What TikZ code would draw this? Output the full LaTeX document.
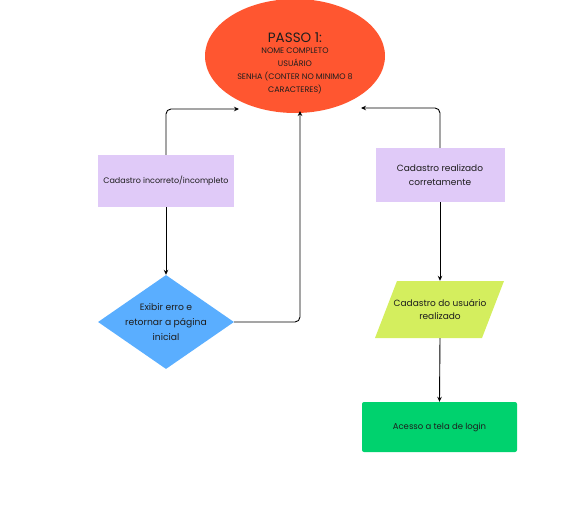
\documentclass[tikz,border=0pt]{standalone}
\usepackage{fontspec}
\setmainfont{Poppins}
\usetikzlibrary{shapes.geometric,arrows.meta}
\definecolor{orangered}{HTML}{FF5630}
\definecolor{lilac}{HTML}{E0CAF8}
\definecolor{skyblue}{HTML}{5AAEFF}
\definecolor{lime}{HTML}{D4EE5E}
\definecolor{mint}{HTML}{00D26E}
\definecolor{ink}{HTML}{1E1E1E}
\tikzset{
  conn/.style={draw=black, line width=0.9pt, rounded corners=5pt, -{Stealth[length=5pt,width=4.5pt]}},
  txt/.style={text=ink, align=center, inner sep=0pt},
  lilacbox/.style={fill=lilac, minimum width=136pt, minimum height=52pt, txt},
}
\begin{document}
\begin{tikzpicture}[x=1pt,y=-1pt]
\useasboundingbox (0,0) rectangle (582,525);
% ellipse
\node[ellipse, fill=orangered, minimum width=180pt, minimum height=114pt, txt] (start) at (295,56) {};
\node[txt, font=\fontsize{13.5}{15}\selectfont] (t1) at (295,38) {PASSO 1:};
\node[txt, font=\fontsize{8}{13}\selectfont] (t2) at (295,71) {NOME COMPLETO\\USUÁRIO\\SENHA (CONTER NO MINIMO 8\\CARACTERES)};
% left branch
\node[lilacbox, font=\fontsize{8}{10}\selectfont] (bad) at (166,181) {Cadastro incorreto/incompleto};
\node[diamond, fill=skyblue, minimum width=136pt, minimum height=94pt, txt, aspect=1.45] (err) at (166,322) {};
\node[txt, font=\fontsize{9.2}{15}\selectfont] (errt) at (166,322.5) {Exibir erro e\\retornar a página\\inicial};
% right branch
\node[fill=lilac, minimum width=129pt, minimum height=54pt, txt, font=\fontsize{9}{14}\selectfont] (ok) at (440,175) {Cadastro realizado\\corretamente};
\coordinate (p1) at (397,281);
\coordinate (p2) at (504,281);
\coordinate (p3) at (482,338);
\coordinate (p4) at (375,338);
\fill[lime] (p1) -- (p2) -- (p3) -- (p4) -- cycle;
\node[minimum width=80pt, minimum height=57pt, txt, font=\fontsize{9}{13}\selectfont] (para) at (440,309.5) {Cadastro do usuário\\realizado};
\node[fill=mint, rounded corners=2pt, minimum width=155pt, minimum height=50pt, txt, font=\fontsize{8.5}{11}\selectfont] (login) at (439.5,427) {Acesso a tela de login};
% connectors
\coordinate (lc) at (166,109);
\coordinate (le) at (239,109);
\draw[conn] (bad.north) -- (lc) -- (le);
\draw[conn] (bad.south) -- (err.north);
\coordinate (dc) at (300,322);
\coordinate (de) at (300,111);
\draw[conn] (err.east) -- (dc) -- (de);
\coordinate (rc) at (440,108);
\coordinate (re) at (361,108);
\draw[conn] (ok.north) -- (rc) -- (re);
\draw[conn] (ok.south) -- (para.north);
\draw[conn] (para.south) -- (login.north);
\end{tikzpicture}
\end{document}
